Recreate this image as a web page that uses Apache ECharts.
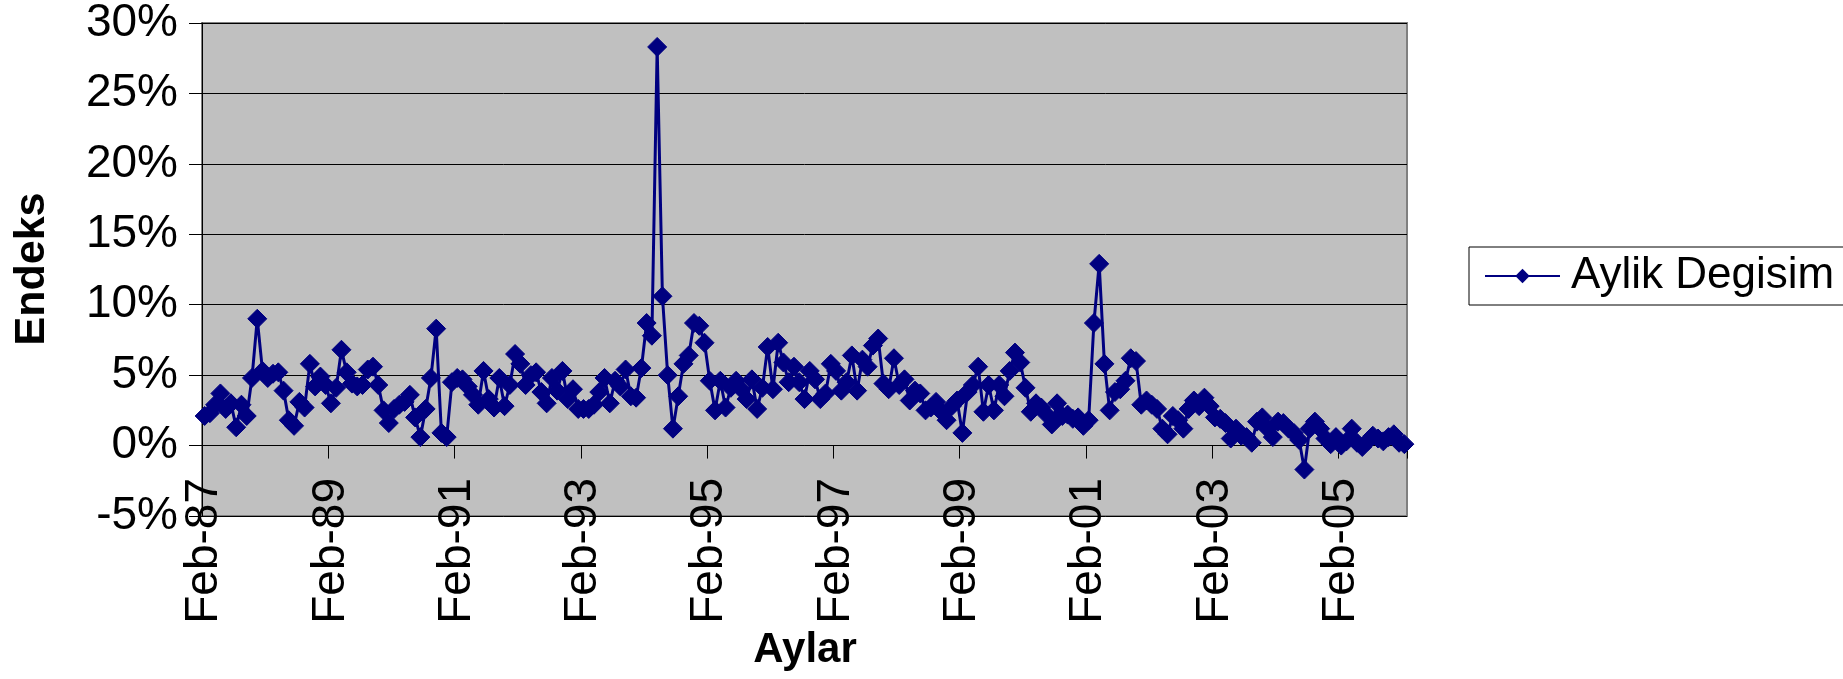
<!DOCTYPE html>
<html>
<head>
<meta charset="utf-8">
<script src="https://cdn.jsdelivr.net/npm/echarts@6/dist/echarts.min.js"></script>
<style>
  html, body { margin: 0; padding: 0; background: #ffffff; }
  #chart { width: 1843px; height: 679px; }
</style>
</head>
<body>
<div id="chart"></div>
<script>
// Month abbreviations used to build the category labels (e.g. "Feb-87")
const MONTHS = ['Jan', 'Feb', 'Mar', 'Apr', 'May', 'Jun', 'Jul', 'Aug', 'Sep', 'Oct', 'Nov', 'Dec'];
const START_YEAR = 1987;
const START_MONTH = 1; // February

const SERIES_NAME = 'Aylik Degisim';
const Y_TITLE = 'Endeks';
const X_TITLE = 'Aylar';

// Y axis range and step, in percent
const Y_MIN = -5;
const Y_MAX = 30;
const Y_STEP = 5;
// One axis label every 24 months
const LABEL_EVERY = 24;

// Monthly change in percent, Feb-87 .. Feb-06 (one row per 12 months)
const MONTHLY_CHANGE = [
  2.1, 2.3, 2.9, 3.7, 2.6, 3.0, 1.3, 2.9, 2.1, 4.8, 9.0, 5.3,
  4.8, 5.1, 5.2, 3.9, 1.8, 1.4, 3.1, 2.7, 5.8, 4.2, 4.9, 4.3,
  3.0, 4.1, 6.8, 5.2, 4.4, 4.2, 4.3, 5.4, 5.6, 4.3, 2.5, 1.6,
  2.6, 2.9, 3.1, 3.6, 2.0, 0.6, 2.6, 4.8, 8.3, 0.9, 0.6, 4.5,
  4.8, 4.7, 4.2, 3.6, 2.9, 5.3, 3.3, 2.7, 4.8, 2.8, 4.3, 6.5,
  5.8, 4.3, 5.0, 5.2, 3.8, 3.0, 4.8, 3.9, 5.3, 3.3, 4.0, 2.6,
  2.6, 2.6, 2.9, 3.8, 4.8, 3.0, 4.6, 4.2, 5.4, 3.5, 3.4, 5.5,
  8.7, 7.8, 28.3, 10.6, 5.0, 1.2, 3.5, 5.8, 6.4, 8.7, 8.5, 7.3,
  4.6, 2.5, 4.6, 2.7, 4.1, 4.6, 4.0, 3.3, 4.7, 2.6, 4.1, 7.0,
  4.0, 7.3, 5.9, 4.5, 5.6, 4.5, 3.3, 5.3, 4.7, 3.3, 3.7, 5.8,
  5.3, 3.9, 4.5, 6.4, 3.9, 6.1, 5.6, 7.1, 7.6, 4.4, 4.0, 6.2,
  4.3, 4.7, 3.2, 3.9, 3.7, 2.5, 2.7, 3.1, 2.4, 1.8, 2.8, 3.2,
  0.9, 3.8, 4.3, 5.6, 2.4, 4.3, 2.5, 4.3, 3.5, 5.3, 6.6, 5.9,
  4.1, 2.4, 3.0, 2.7, 2.2, 1.5, 3.0, 2.1, 2.2, 1.9, 2.0, 1.4,
  1.8, 8.7, 12.9, 5.8, 2.5, 3.8, 4.0, 4.6, 6.2, 6.0, 2.9, 3.2,
  2.9, 2.6, 1.2, 0.8, 2.1, 1.8, 1.2, 2.6, 3.2, 2.8, 3.4, 2.8,
  2.0, 1.9, 1.6, 0.5, 1.2, 0.7, 0.6, 0.2, 1.7, 2.0, 1.2, 0.6,
  1.7, 1.6, 1.2, 0.9, 0.4, -1.7, 1.2, 1.7, 1.2, 0.5, 0.1, 0.6,
  0.0, 0.3, 1.2, 0.2, -0.1, 0.3, 0.7, 0.5, 0.3, 0.6, 0.8, 0.2,
  0.1
];

// Category labels "Mon-YY" for each monthly value
const CATEGORIES = MONTHLY_CHANGE.map(function (_, i) {
  const k = START_MONTH + i;
  const year = START_YEAR + Math.floor(k / 12);
  return MONTHS[k % 12] + '-' + String(year % 100).padStart(2, '0');
});

const FONT = '"Liberation Sans", Arial, Helvetica, sans-serif';
const NAVY = '#000080';

const grid = { left: 202, top: 22, width: 1205, height: 494 };

const chart = echarts.init(document.getElementById('chart'), null, { renderer: 'canvas' });

chart.setOption({
  animation: false,
  backgroundColor: '#ffffff',
  grid: {
    left: grid.left,
    top: grid.top,
    width: grid.width,
    height: grid.height,
    show: true,
    backgroundColor: '#C0C0C0',
    borderColor: '#808080',
    borderWidth: 2,
    containLabel: false
  },
  legend: {
    left: 1469,
    top: 247,
    padding: [7, 40, 7, 15],
    borderColor: '#000000',
    borderWidth: 1,
    backgroundColor: '#ffffff',
    itemWidth: 75,
    itemHeight: 18,
    textStyle: { fontFamily: FONT, fontSize: 44, color: '#000000', padding: [0, 0, 0, 6] },
    data: [SERIES_NAME]
  },
  xAxis: {
    type: 'category',
    data: CATEGORIES,
    boundaryGap: true,
    axisLine: { show: true, onZero: true, lineStyle: { color: '#000000', width: 1 } },
    axisTick: { show: true, interval: LABEL_EVERY - 1, length: 13, alignWithLabel: false,
                lineStyle: { color: '#000000', width: 1 } },
    axisLabel: {
      interval: LABEL_EVERY - 1,
      rotate: 90,
      margin: -38,
      fontFamily: FONT,
      fontSize: 46,
      color: '#000000'
    },
    splitLine: { show: false }
  },
  yAxis: {
    type: 'value',
    min: Y_MIN,
    max: Y_MAX,
    interval: Y_STEP,
    axisLine: { show: true, lineStyle: { color: '#000000', width: 1 } },
    axisTick: { show: true, length: 13, lineStyle: { color: '#000000', width: 1 } },
    axisLabel: {
      margin: 24,
      fontFamily: FONT,
      fontSize: 46,
      color: '#000000',
      formatter: '{value}%'
    },
    splitLine: { show: true, lineStyle: { color: '#000000', width: 1 } }
  },
  graphic: [
    {
      type: 'text',
      x: 32, y: 269,
      rotation: Math.PI / 2,
      style: { text: Y_TITLE, font: 'bold 43px ' + FONT, fill: '#000000', align: 'center', verticalAlign: 'middle' }
    },
    {
      type: 'text',
      x: 805, y: 650,
      style: { text: X_TITLE, font: 'bold 42px ' + FONT, fill: '#000000', align: 'center', verticalAlign: 'middle' }
    }
  ],
  series: [
    {
      name: SERIES_NAME,
      type: 'line',
      data: MONTHLY_CHANGE,
      color: NAVY,
      lineStyle: { color: NAVY, width: 3 },
      itemStyle: { color: NAVY, borderColor: NAVY },
      symbol: 'diamond',
      symbolSize: 19,
      showAllSymbol: true,
      showSymbol: true,
      z: 3
    }
  ]
});
</script>
</body>
</html>
